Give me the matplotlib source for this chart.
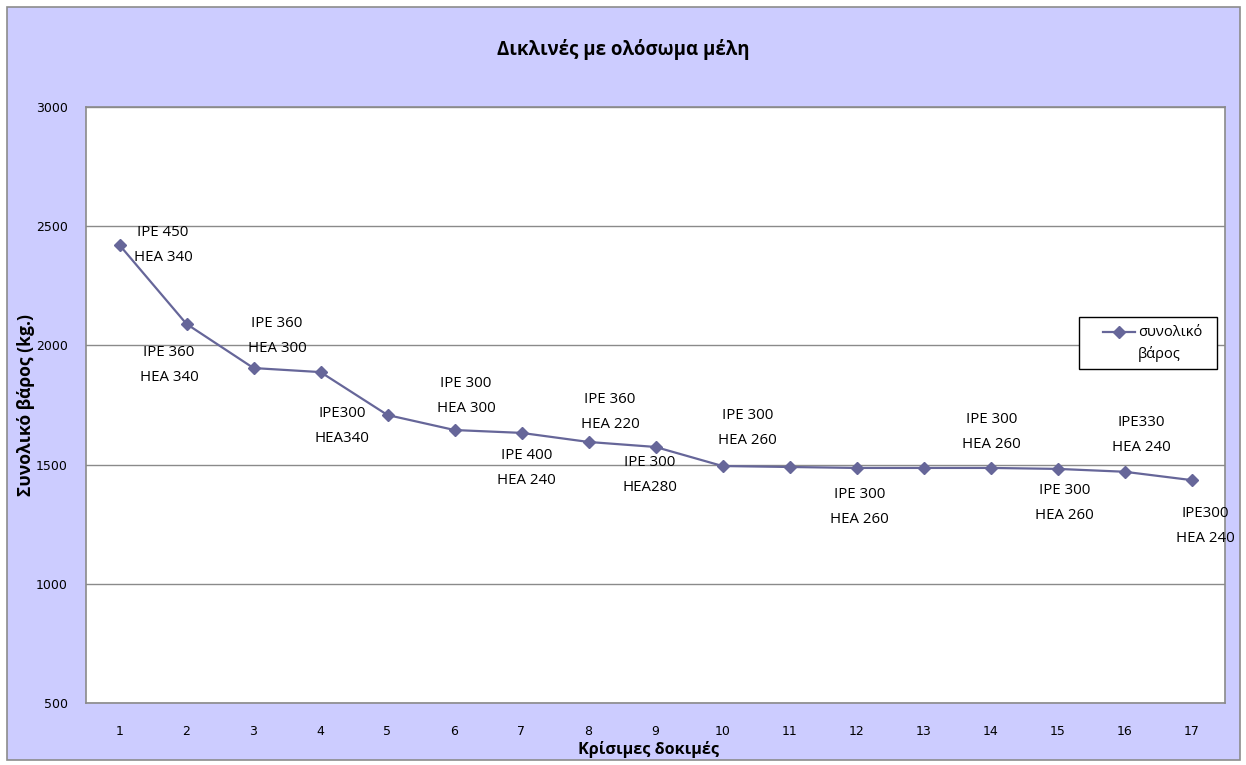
import matplotlib
matplotlib.use("Agg")
import matplotlib.pyplot as plt
from matplotlib.patches import Rectangle
from matplotlib.lines import Line2D

# Data: total weight per critical trial
trials = list(range(1, 18))
weights = [2421, 2090, 1905, 1888, 1708, 1645, 1633, 1595, 1574,
           1494, 1490, 1486, 1486, 1486, 1482, 1470, 1435]

# Section annotations (text) and where each one sits (x in trial units, y in kg)
section_labels = [
    "IPE 450\nHEA 340", "IPE 360\nHEA 340", "IPE 360\nHEA 300", "IPE300\nHEA340",
    "IPE 300\nHEA 300", "IPE 400\nHEA 240", "IPE 360\nHEA 220", "IPE 300\nHEA280",
    "IPE 300\nHEA 260", "IPE 300\nHEA 260", "IPE 300\nHEA 260", "IPE 300\nHEA 260",
    "IPE330\nHEA 240", "IPE300\nHEA 240",
]
label_x = [1.65, 1.74, 3.35, 4.32, 6.17, 7.08, 8.32, 8.92, 10.37, 12.05, 14.02, 15.11, 16.25, 17.2]
label_y = [2421, 1918, 2039, 1662, 1788, 1486, 1721, 1456, 1653, 1322, 1637, 1339, 1624, 1242]

y_ticks = [500, 1000, 1500, 2000, 2500, 3000]

title = "Δικλινές με ολόσωμα μέλη"
x_title = "Κρίσιμες δοκιμές"
y_title = "Συνολικό βάρος (kg.)"
series_name = "συνολικό\nβάρος"

W, H = 1246, 765
fig = plt.figure(figsize=(W / 100, H / 100), dpi=100)
fig.patch.set_facecolor("white")


def fx(px):
    return px / W


def fy(py):
    return 1 - py / H


# Chart area background with grey border
fig.add_artist(Rectangle((fx(7), fy(760)), (1240 - 7) / W, (760 - 7) / H,
                         transform=fig.transFigure, facecolor="#CCCCFF",
                         edgecolor="#8c8c8c", linewidth=1.2, zorder=0))

ax = fig.add_axes([fx(86), fy(703), (1225 - 86) / W, (703 - 107) / H])
ax.set_facecolor("white")

line_color = "#666699"
style = dict(color=line_color, linewidth=1.6, marker="D", markersize=6.5,
             markerfacecolor=line_color, markeredgecolor=line_color)
ax.plot(trials, weights, label=series_name, zorder=3, clip_on=False, **style)

label_font = "Open Sans"
for txt, lx, ly in zip(section_labels, label_x, label_y):
    ax.text(lx, ly, txt, ha="center", va="center", fontsize=10.8, family=label_font,
            linespacing=1.85, color="black", zorder=4, clip_on=False)

ax.set_xlim(0.5, 17.5)
ax.set_ylim(500, 3000)
ax.set_xticks(trials)
ax.set_yticks(y_ticks)
ax.tick_params(axis="both", length=0, labelsize=9, colors="black")
ax.tick_params(axis="x", pad=16)
ax.tick_params(axis="y", pad=13)
for lab in ax.get_xticklabels() + ax.get_yticklabels():
    lab.set_family("DejaVu Sans")
ax.yaxis.grid(True, color="#8a8a8a", linewidth=1.0)
ax.set_axisbelow(True)
for s in ax.spines.values():
    s.set_color("#8a8a8a")
    s.set_linewidth(1.2)

fig.text(fx(623), fy(50), title, ha="center", va="center",
         fontsize=13.4, fontweight="bold", family=label_font)
fig.text(fx(648), fy(750), x_title, ha="center", va="center",
         fontsize=11.6, fontweight="bold", family=label_font)
fig.text(fx(26), fy(405), y_title, ha="center", va="center", rotation=90,
         fontsize=12.6, fontweight="bold", family=label_font)

# Legend box: sample line with a marker at its middle, then the series name
fig.add_artist(Rectangle((fx(1079), fy(369)), (1217 - 1079) / W, (369 - 317) / H,
                         transform=fig.transFigure, facecolor="white",
                         edgecolor="black", linewidth=1.0, zorder=5))
fig.add_artist(Line2D([fx(1103), fx(1119), fx(1135)], [fy(332)] * 3,
                      transform=fig.transFigure, markevery=[1], zorder=6, **style))
fig.text(fx(1138), fy(325), series_name, ha="left", va="top",
         fontsize=10.5, family=label_font, linespacing=1.5, zorder=6,
         transform=fig.transFigure)

fig.savefig("out.png", dpi=100, facecolor="white")
